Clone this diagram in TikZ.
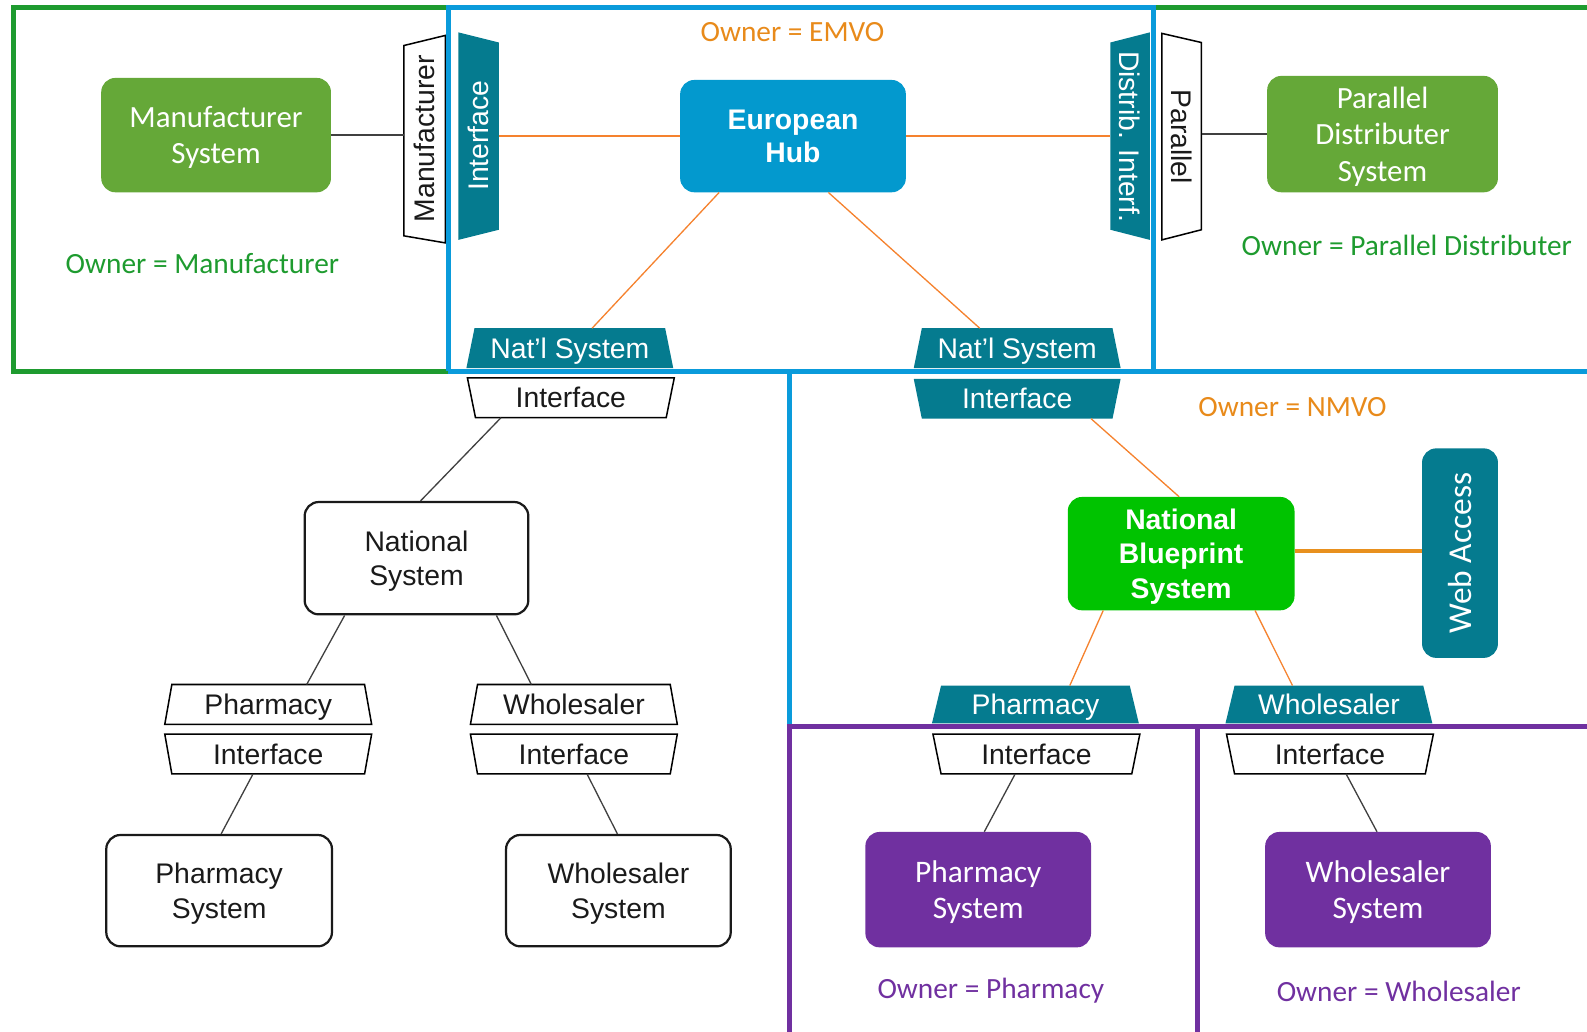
\documentclass[tikz,border=0pt]{standalone}
\usepackage{fontspec}
\setmainfont{Liberation Sans}
\newfontfamily\calfont{Carlito}
\usetikzlibrary{calc,backgrounds}
\definecolor{gfr}{HTML}{1E9B2F}
\definecolor{bfr}{HTML}{0A9BDB}
\definecolor{pfr}{HTML}{7030A0}
\definecolor{gboxc}{HTML}{65A838}
\definecolor{hubc}{HTML}{0399CE}
\definecolor{tealc}{HTML}{057B8F}
\definecolor{nbsc}{HTML}{00C300}
\definecolor{orl}{HTML}{F5822E}
\definecolor{orthick}{HTML}{E8901E}
\definecolor{otxt}{HTML}{E88A1A}
\definecolor{gtxt}{HTML}{1E9B2F}
\definecolor{txt}{HTML}{1A1A1A}
\definecolor{gln}{HTML}{404040}
\newcommand\trapz[4]{\path[#2] ($(#1.north west)+(#3,0)$) -- ($(#1.north east)+(-#3,0)$) -- ($(#1.south east)+(-#4,0)$) -- ($(#1.south west)+(#4,0)$) -- cycle;}
\begin{document}
\begin{tikzpicture}[x=1pt,y=-1pt,
  rbox/.style={rounded corners=14pt, inner sep=0pt, align=center, text=white, text depth=0pt},
  calbox/.style={rbox, font=\calfont\fontsize{30.5}{36}\selectfont},
  arbox/.style={rbox, font=\fontsize{28}{34}\selectfont},
  trap/.style={minimum width=204pt, minimum height=39pt, inner sep=0pt, text height=20pt, text depth=0pt, font=\fontsize{28}{33}\selectfont},
  vtrap/.style={minimum width=200pt, minimum height=40pt, inner sep=0pt, font=\fontsize{28}{33}\selectfont},
  owner/.style={inner sep=0pt, font=\calfont\fontsize{29}{33}\selectfont},
  frame/.style={line width=5pt},
  gline/.style={draw=gln, line width=1.3pt},
  oline/.style={draw=orl, line width=1.3pt},
  wtrap/.style={fill=white, draw=black, line width=1.5pt},
  ttrap/.style={fill=tealc}]
\useasboundingbox (0,0) rectangle (1568,1019);

% rounded boxes
\node[calbox, fill=gboxc, minimum width=227pt, minimum height=113pt] (mfr) at (213.5,133.5) {Manufacturer\\System};
\node[arbox, fill=hubc, minimum width=223pt, minimum height=111pt, font=\bfseries\fontsize{28}{33}\selectfont] (hub) at (783.5,134.5) {European\\Hub};
\node[calbox, fill=gboxc, minimum width=228pt, minimum height=115pt] (pds) at (1366,132.5) {Parallel\\Distributer\\System};
\node[arbox, draw=txt, line width=2.2pt, text=txt, minimum width=221pt, minimum height=111pt] (natS) at (411.5,551.5) {National\\System};
\node[arbox, draw=txt, line width=2.2pt, text=txt, minimum width=223pt, minimum height=110pt] (psL) at (216.5,880) {Pharmacy\\System};
\node[arbox, draw=txt, line width=2.2pt, text=txt, minimum width=222pt, minimum height=110pt] (wsL) at (611,880) {Wholesaler\\System};
\node[arbox, fill=nbsc, minimum width=224pt, minimum height=112pt, font=\bfseries\fontsize{28}{34}\selectfont] (nbs) at (1167,547) {National\\Blueprint\\System};
\node[rbox, fill=tealc, rotate=90, minimum width=207pt, minimum height=75pt, font=\calfont\fontsize{33}{36}\selectfont] (web) at (1442.5,546.5) {Web Access};
\node[calbox, fill=pfr, minimum width=223pt, minimum height=114pt, font=\calfont\fontsize{31}{36}\selectfont] (psR) at (966.5,879) {Pharmacy\\System};
\node[calbox, fill=pfr, minimum width=223pt, minimum height=114pt, font=\calfont\fontsize{31}{36}\selectfont] (wsR) at (1361.5,879) {Wholesaler\\System};

% horizontal trapezoid labels
\node[trap, text=white] (natL) at (563,344) {Nat’l System};
\node[trap, text=txt] (intL) at (564,393) {Interface};
\node[trap, text=white] (natR) at (1005,344) {Nat’l System};
\node[trap, text=white] (intR) at (1005,394) {Interface};
\node[trap, text=txt] (phL) at (265,696) {Pharmacy};
\node[trap, text=txt] (phIL) at (265,745) {Interface};
\node[trap, text=txt] (whL) at (567,696) {Wholesaler};
\node[trap, text=txt] (whIL) at (567,745) {Interface};
\node[trap, text=white, minimum height=37pt] (phR) at (1023,696) {Pharmacy};
\node[trap, text=txt] (phIR) at (1024,745) {Interface};
\node[trap, text=white, minimum height=37pt] (whR) at (1313,696) {Wholesaler};
\node[trap, text=txt] (whIR) at (1314,745) {Interface};

% vertical trapezoid labels
\node[vtrap, rotate=90, text=txt, minimum height=41pt] (mfrT) at (419.5,137) {Manufacturer};
\node[vtrap, rotate=90, text=white] (intT) at (473,134) {Interface};
\node[vtrap, rotate=-90, text=white] (disT) at (1116.5,135) {Distrib. Interf.};
\node[vtrap, rotate=-90, text=txt, minimum height=39pt] (parT) at (1167.5,135) {Parallel};

\begin{scope}[on background layer]
  \trapz{natL}{ttrap}{8}{0}
  \trapz{intL}{wtrap}{0}{8}
  \trapz{natR}{ttrap}{8}{0}
  \trapz{intR}{ttrap}{0}{8}
  \trapz{phL}{wtrap}{7}{0}
  \trapz{phIL}{wtrap}{0}{7}
  \trapz{whL}{wtrap}{7}{0}
  \trapz{whIL}{wtrap}{0}{7}
  \trapz{phR}{ttrap}{9}{0}
  \trapz{phIR}{wtrap}{0}{8}
  \trapz{whR}{ttrap}{9}{0}
  \trapz{whIR}{wtrap}{0}{8}
  \path[wtrap] (399,45) -- (440,35) -- (440,240) -- (399,233) -- cycle;
  \path[ttrap] (453,32) -- (493,42) -- (493,227) -- (453,237) -- cycle;
  \path[ttrap] (1097,42) -- (1136,32) -- (1136,237) -- (1097,227) -- cycle;
  \path[wtrap] (1148,33) -- (1187,42) -- (1187,227) -- (1148,237) -- cycle;
\end{scope}

% owner labels
\node[owner, text=gtxt] (ownM) at (200,260) {Owner = Manufacturer};
\node[owner, text=otxt] (ownE) at (783,32) {Owner = EMVO};
\node[owner, text=gtxt] (ownP) at (1390,242) {Owner = Parallel Distributer};
\node[owner, text=otxt] (ownN) at (1277,402) {Owner = NMVO};
\node[owner, text=pfr] (ownPh) at (979,979) {Owner = Pharmacy};
\node[owner, text=pfr] (ownW) at (1382,980) {Owner = Wholesaler};

% connectors
\draw[gline] (mfr.east) -- (mfr.east -| mfrT.north);
\draw[oline] (intT.south |- hub.west) -- (hub.west);
\draw[oline] (hub.east) -- (hub.east -| disT.south);
\draw[gline] (parT.north |- pds.west) -- (pds.west);
\draw[oline] ($(hub.south)+(-73,0)$) -- ($(natL.north)+(22,0)$);
\draw[oline] ($(hub.south)+(35,0)$) -- ($(natR.north)+(-37,0)$);
\draw[gline] ($(intL.south)+(-69,0)$) -- ($(natS.north)+(4,0)$);
\draw[gline] ($(natS.south)+(-71,0)$) -- ($(phL.north)+(38,0)$);
\draw[gline] ($(natS.south)+(79,0)$) -- ($(whL.north)+(-42,0)$);
\draw[gline] ($(phIL.south)+(-15,0)$) -- ($(psL.north)+(2,0)$);
\draw[gline] ($(whIL.south)+(13,0)$) -- ($(wsL.north)+(-1,0)$);
\draw[oline] ($(intR.south)+(73,0)$) -- ($(nbs.north)+(-2,0)$);
\draw[draw=orthick, line width=4pt] ($(nbs.east)+(0,-3)$) -- ($(nbs.east -| web.north)+(0,-3)$);
\draw[oline] ($(nbs.south)+(-77,0)$) -- ($(phR.north)+(34,0)$);
\draw[oline] ($(nbs.south)+(73,0)$) -- ($(whR.north)+(-36,0)$);
\draw[gline] ($(phIR.south)+(-21,0)$) -- ($(psR.north)+(6,0)$);
\draw[gline] ($(whIR.south)+(16,0)$) -- ($(wsR.north)+(-1,0)$);

% frames
\draw[frame, gfr] (443,7) -- (13,7) -- (13,367) -- (443,367);
\draw[frame, gfr] (1140,7) -- (1580,7);
\draw[frame, bfr] (443,367) -- (443,7) -- (1140,7) -- (1140,367);
\draw[frame, bfr] (443,367) -- (1580,367);
\draw[frame, bfr] (780,367) -- (780,718);
\draw[frame, pfr] (1580,718) -- (780,718) -- (780,1030);
\draw[frame, pfr] (1183,718) -- (1183,1030);
\end{tikzpicture}
\end{document}
